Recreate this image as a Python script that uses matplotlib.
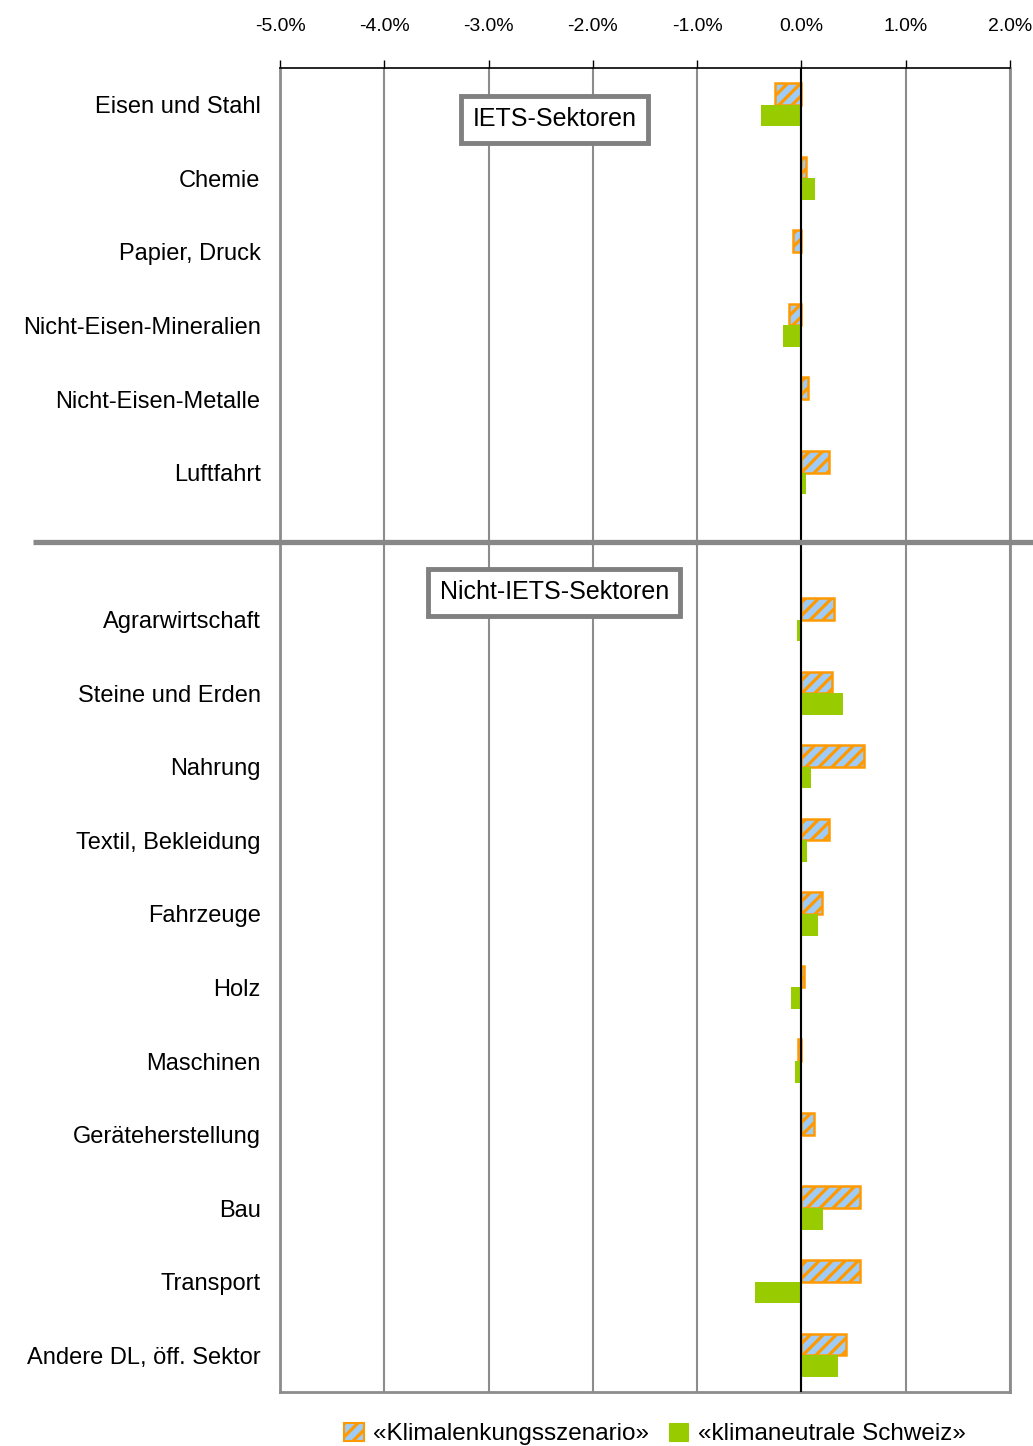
import numpy as np
import matplotlib.pyplot as plt
from matplotlib.patches import Patch
from matplotlib.transforms import blended_transform_factory

# ---------------------------
# Data (change vs. reference, in %)
# ---------------------------
iets = ["Eisen und Stahl", "Chemie", "Papier, Druck", "Nicht-Eisen-Mineralien",
        "Nicht-Eisen-Metalle", "Luftfahrt"]
non_iets = ["Agrarwirtschaft", "Steine und Erden", "Nahrung", "Textil, Bekleidung",
            "Fahrzeuge", "Holz", "Maschinen", "Geräteherstellung", "Bau", "Transport",
            "Andere DL, öff. Sektor"]

klimalenkung_iets = [-0.255, 0.04, -0.08, -0.12, 0.065, 0.26]
klimaneutral_iets = [-0.39, 0.13, 0.01, -0.18, 0.0, 0.04]

klimalenkung_non = [0.31, 0.295, 0.60, 0.26, 0.20, 0.025, -0.03, 0.12, 0.565, 0.565, 0.43]
klimaneutral_non = [-0.04, 0.40, 0.09, 0.055, 0.16, -0.10, -0.06, 0.01, 0.205, -0.445, 0.355]

xticks = [-5, -4, -3, -2, -1, 0, 1, 2]

ORANGE = "#FF9900"
BLUE = "#9FCBF7"
GREEN = "#99CC00"
GRAY = "#8C8C8C"

# hatch cells are one inch wide, so a lower dpi gives denser stripes;
# S rescales point sizes so the output stays 1033x1446 px with the same look
DPI = 78
S = 100 / DPI
W, H = 1033, 1446

plt.rcParams.update({
    "font.family": ["Liberation Sans", "DejaVu Sans"],
    "hatch.linewidth": 2.3 * S,
    "hatch.color": ORANGE,
})

# one empty row between the two sector groups
labels = iets + [""] + non_iets
orange_vals = klimalenkung_iets + [np.nan] + klimalenkung_non
green_vals = klimaneutral_iets + [np.nan] + klimaneutral_non
y = np.arange(len(labels))
h = 0.295

fig = plt.figure(figsize=(W / DPI, H / DPI), dpi=DPI)
ax = fig.add_axes([280 / W, 1 - 1392 / H, 730 / W, 1324 / H])

ax.barh(y - h / 2, orange_vals, height=h, color=BLUE, edgecolor=ORANGE,
        linewidth=1.8 * S, hatch="//", zorder=3)
ax.barh(y + h / 2, green_vals, height=h, color=GREEN, linewidth=0, zorder=3)

ax.set_xlim(-5, 2)
ax.set_ylim(len(labels) - 0.5, -0.5)
ax.axvline(0, color="black", lw=1.5 * S, zorder=4)

ax.xaxis.tick_top()
ax.set_xticks(xticks)
ax.set_xticklabels([f"{v:.1f}%" for v in xticks], fontsize=14 * S)
ax.tick_params(axis="x", length=6 * S, width=1 * S, color="black", pad=18 * S)
ax.grid(axis="x", color=GRAY, lw=1.5 * S, zorder=0)

ax.set_yticks(y)
ax.set_yticklabels(labels, fontsize=17 * S)
ax.tick_params(axis="y", length=0, pad=14 * S)

for side in ["left", "right", "bottom"]:
    ax.spines[side].set_color(GRAY)
    ax.spines[side].set_linewidth(2 * S)
ax.spines["top"].set_color("black")
ax.spines["top"].set_linewidth(1.2 * S)

# separator between IETS and non-IETS sectors
trans = blended_transform_factory(fig.transFigure, ax.transData)
sep = len(iets) - 0.05
ax.plot([33 / W, 1.0], [sep, sep], transform=trans, color="#888888",
        lw=3.8 * S, clip_on=False, zorder=5, solid_capstyle="butt")

box = dict(boxstyle="square,pad=0.45", fc="white", ec="#808080", lw=3.5 * S)
ax.text(-2.37, 0.2, "IETS-Sektoren", ha="center", va="center", fontsize=18 * S,
        bbox=box, zorder=6)
ax.text(-2.37, len(iets) + 0.63, "Nicht-IETS-Sektoren", ha="center", va="center",
        fontsize=18 * S, bbox=box, zorder=6)

handles = [Patch(facecolor=BLUE, edgecolor=ORANGE, hatch="//", lw=1.5 * S),
           Patch(facecolor=GREEN, edgecolor=GREEN)]
fig.legend(handles, ["«Klimalenkungsszenario»", "«klimaneutrale Schweiz»"],
           loc="center", bbox_to_anchor=(655 / W, 1 - 1434 / H), ncol=2,
           frameon=False, fontsize=17.5 * S, handlelength=0.8, handleheight=0.8,
           handletextpad=0.4, columnspacing=0.8)

fig.savefig("out.png", dpi=DPI)
